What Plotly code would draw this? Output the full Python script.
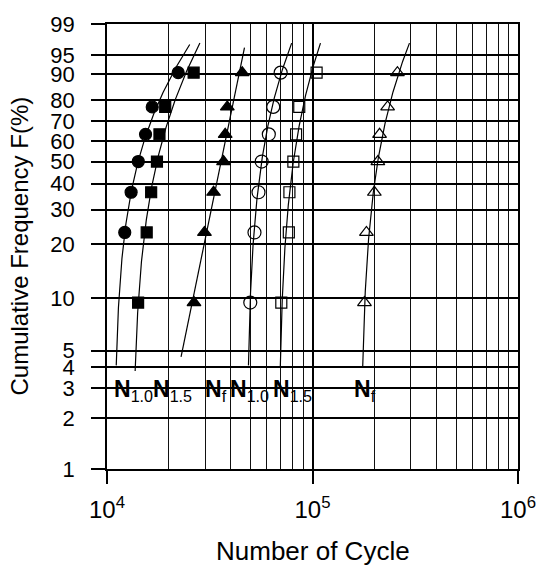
import numpy as np
import plotly.graph_objects as go

# Median ranks (%) for n = 7 specimens
ranks = [9.46, 22.97, 36.49, 50.0, 63.51, 77.03, 90.54]

# Cycles to each criterion (None = not plotted)
cycles_n10_a = [None, 12200, 13100, 14200, 15400, 16600, 22200]
cycles_n15_a = [14170, 15600, 16400, 17500, 18000, 19200, 26400]
cycles_nf_a = [26500, 29800, 33000, 36900, 37600, 38500, 45500]
cycles_n10_b = [49800, 52200, 54600, 56600, 61300, 64400, 70000]
cycles_n15_b = [70500, 76700, 77200, 80700, 83200, 86200, 104700]
cycles_nf_b = [179000, 183000, 200000, 208000, 212000, 232000, 259000]

# Three-parameter Weibull fits, F = 1 - exp(-((N - N0) / eta) ** m)
fit_location = [10830, 13250, 0, 47820, 68080, 171190]
fit_scale = [4658, 5658, 38190, 11656, 16480, 48150]
fit_shape = [1.101, 1.291, 5.988, 1.278, 1.377, 1.323]
# Probability span (%) over which each fitted line is drawn
fit_from = [4.1, 3.8, 4.6, 4.1, 4.0, 4.0]
fit_to = [96.9, 97.1, 96.4, 97.1, 97.1, 97.1]

# Probability-axis ticks (%)
prob_ticks = [1, 2, 3, 4, 5, 10, 20, 30, 40, 50, 60, 70, 80, 90, 95, 99]

# Curve labels and their anchor cycles
label_subs = ["1.0", "1.5", "f", "1.0", "1.5", "f"]
label_cycles = [10600, 16300, 29300, 38800, 62500, 155600]

FONT = "Liberation Sans, Arial, Helvetica, sans-serif"


def wy(p):
    """Weibull probability transform of a percentage."""
    p = np.asarray(p, dtype=float) / 100.0
    return np.log(-np.log(1.0 - p))


series_cycles = [cycles_n10_a, cycles_n15_a, cycles_nf_a,
                 cycles_n10_b, cycles_n15_b, cycles_nf_b]
series_style = [
    ("circle", 12),
    ("square", 11),
    ("triangle-up", 12),
    ("circle-open", 13),
    ("square-open", 11),
    ("triangle-up-open", 12),
]

fig = go.Figure()

for i, cyc in enumerate(series_cycles):
    sym, size = series_style[i]
    Yc = np.linspace(float(wy(fit_from[i])), float(wy(fit_to[i])), 200)
    Nc = fit_location[i] + fit_scale[i] * np.exp(Yc / fit_shape[i])
    fig.add_trace(go.Scatter(
        x=Nc, y=Yc, mode="lines",
        line=dict(color="black", width=1.2), showlegend=False, hoverinfo="skip",
    ))
    xs = [c for c in cyc if c is not None]
    ps = [r for c, r in zip(cyc, ranks) if c is not None]
    fig.add_trace(go.Scatter(
        x=xs, y=wy(ps), mode="markers",
        marker=dict(symbol=sym, size=size, color="black",
                    line=dict(color="black", width=1.2)),
        showlegend=False,
    ))

minor_vals = [m * 10 ** k for k in (4, 5) for m in range(2, 10)]

fig.update_xaxes(
    type="log", range=[4, 6],
    tickvals=[1e4, 1e5, 1e6],
    ticktext=["10<sup>4</sup>", "10<sup>5</sup>", "10<sup>6</sup>"],
    ticks="outside", ticklen=13, tickwidth=1.5, tickcolor="black",
    tickfont=dict(family=FONT, size=24, color="black"),
    ticklabelstandoff=5,
    showgrid=True, gridcolor="black", gridwidth=1.8,
    minor=dict(tickvals=minor_vals, showgrid=True, gridcolor="#111",
               gridwidth=1, ticks=""),
    showline=True, mirror=True, linecolor="black", linewidth=2,
    zeroline=False,
)

fig.update_yaxes(
    range=[float(wy(1)), float(wy(99))],
    tickvals=wy(prob_ticks), ticktext=[str(t) for t in prob_ticks],
    ticks="outside", ticklen=14, tickwidth=2, tickcolor="black",
    tickfont=dict(family=FONT, size=22, color="black"),
    ticklabelstandoff=12,
    showgrid=True, gridcolor="black", gridwidth=2,
    showline=True, mirror=True, linecolor="black", linewidth=1.5,
    zeroline=False,
)

annotations = []
for sub, cx in zip(label_subs, label_cycles):
    annotations.append(dict(
        x=np.log10(cx), y=float(wy(2.9)), xref="x", yref="y",
        text=f"<b>N</b><sub>{sub}</sub>", showarrow=False,
        xanchor="left", yanchor="middle",
        font=dict(family=FONT, size=23, color="black"),
    ))

annotations.append(dict(
    x=-0.214, y=0.5, xref="paper", yref="paper",
    text="Cumulative Frequency F(%)", textangle=-90, showarrow=False,
    xanchor="center", yanchor="middle",
    font=dict(family=FONT, size=24, color="black"),
))
annotations.append(dict(
    x=0.5, y=-0.1846, xref="paper", yref="paper",
    text="Number of Cycle", showarrow=False,
    xanchor="center", yanchor="middle",
    font=dict(family=FONT, size=26, color="black"),
))

fig.update_layout(
    width=548, height=574, autosize=False,
    margin=dict(l=107, r=21, t=14, b=105),
    paper_bgcolor="white", plot_bgcolor="white",
    annotations=annotations,
)

fig.write_html("out.html")
